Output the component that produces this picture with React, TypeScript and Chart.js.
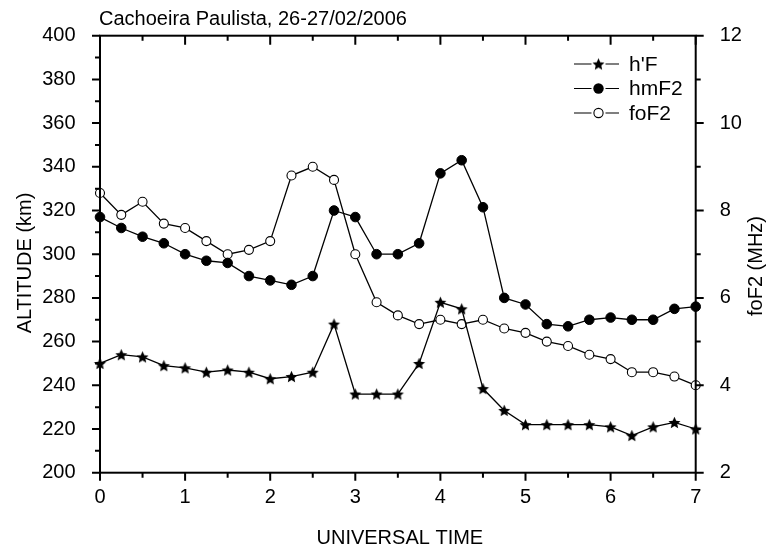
import React, { useEffect, useRef } from "react";
import { Chart, registerables } from "chart.js";

Chart.register(...registerables);

// ---- data ----
const hours = [0, 0.25, 0.5, 0.75, 1, 1.25, 1.5, 1.75, 2, 2.25, 2.5, 2.75, 3, 3.25, 3.5, 3.75, 4, 4.25, 4.5, 4.75, 5, 5.25, 5.5, 5.75, 6, 6.25, 6.5, 6.75, 7];
const hF = [250, 254, 253, 249, 248, 246, 247, 246, 243, 244, 246, 268, 236, 236, 236, 250, 278, 275, 238.5, 228.5, 222, 222, 222, 222, 221, 217, 221, 223, 220];
const hmF2 = [317, 312, 308, 305, 300, 297, 296, 290, 288, 286, 290, 320, 317, 300, 300, 305, 337, 343, 321.5, 280, 277, 268, 267, 270, 271, 270, 270, 275, 276];
const foF2 = [8.4, 7.9, 8.2, 7.7, 7.6, 7.3, 7.0, 7.1, 7.3, 8.8, 9.0, 8.7, 7.0, 5.9, 5.6, 5.4, 5.5, 5.4, 5.5, 5.3, 5.2, 5.0, 4.9, 4.7, 4.6, 4.3, 4.3, 4.2, 4.0];

const timeTicks = [0, 1, 2, 3, 4, 5, 6, 7];
const timeMinor = [0.5, 1.5, 2.5, 3.5, 4.5, 5.5, 6.5];
const altTicks = [200, 220, 240, 260, 280, 300, 320, 340, 360, 380, 400];
const altMinor = [210, 230, 250, 270, 290, 310, 330, 350, 370, 390];
const freqTicks = [2, 4, 6, 8, 10, 12];
const freqMinor = [3, 5, 7, 9, 11];

const titleText = "Cachoeira Paulista, 26-27/02/2006";
const xTitle = "UNIVERSAL TIME";
const yTitle = "ALTITUDE (km)";
const y2Title = "foF2 (MHz)";
const seriesNames = ["h'F", "hmF2", "foF2"];

const FONT = "'Liberation Sans', Arial, Helvetica, sans-serif";

function makeStar(R: number): HTMLCanvasElement {
  const size = Math.ceil(2 * R + 2);
  const c = document.createElement("canvas");
  c.width = size;
  c.height = size;
  const g = c.getContext("2d")!;
  const cx = size / 2;
  const cy = size / 2 + R * 0.095;
  g.beginPath();
  for (let i = 0; i < 10; i++) {
    const r = i % 2 === 0 ? R : R * 0.47;
    const a = -Math.PI / 2 + (i * Math.PI) / 5;
    const px = cx + r * Math.cos(a);
    const py = cy + r * Math.sin(a);
    if (i === 0) g.moveTo(px, py);
    else g.lineTo(px, py);
  }
  g.closePath();
  g.fillStyle = "#000";
  g.fill();
  return c;
}

export default function App() {
  const ref = useRef<HTMLCanvasElement>(null);

  useEffect(() => {
    const star = makeStar(6.3);

    const framePlugin = {
      id: "frame",
      afterDraw(chart: any) {
        const ctx: CanvasRenderingContext2D = chart.ctx;
        const ca = chart.chartArea;
        const left = ca.left;
        const right = ca.right;
        const top = ca.top;
        const bottom = ca.bottom;
        const W = right - left;
        const H = bottom - top;
        const sx = chart.scales.x;
        const sy = chart.scales.y;
        const sy2 = chart.scales.y2;

        ctx.save();
        ctx.strokeStyle = "#000";
        ctx.fillStyle = "#000";
        ctx.lineWidth = 2;
        ctx.strokeRect(left, top, W, H);

        const tickPath = new Path2D();
        const add = (x1: number, y1: number, x2: number, y2: number) => {
          tickPath.moveTo(x1, y1);
          tickPath.lineTo(x2, y2);
        };
        for (const v of timeTicks) {
          const p = sx.getPixelForValue(v);
          add(p, bottom, p, bottom + 8);
          add(p, top, p, top + 9);
        }
        for (const v of timeMinor) {
          const p = sx.getPixelForValue(v);
          add(p, bottom, p, bottom + 5);
          add(p, top, p, top + 5);
        }
        for (const v of altTicks) {
          const p = sy.getPixelForValue(v);
          add(left, p, left - 8, p);
        }
        for (const v of altMinor) {
          const p = sy.getPixelForValue(v);
          add(left, p, left - 5, p);
        }
        for (const v of freqTicks) {
          const p = sy2.getPixelForValue(v);
          add(right, p, right + 8, p);
        }
        for (const v of freqMinor) {
          const p = sy2.getPixelForValue(v);
          add(right, p, right + 5, p);
        }
        ctx.lineWidth = 2;
        ctx.stroke(tickPath);

        ctx.textBaseline = "alphabetic";
        ctx.font = `20px ${FONT}`;
        ctx.textAlign = "left";
        ctx.fillText(titleText, left - 1, 25);
        ctx.textAlign = "center";
        ctx.fillText(xTitle, (left + right) / 2 + 2, 544);
        ctx.save();
        ctx.translate(30.5, 263);
        ctx.rotate(-Math.PI / 2);
        ctx.fillText(yTitle, 0, 0);
        ctx.restore();
        ctx.save();
        ctx.translate(761.5, 266);
        ctx.rotate(-Math.PI / 2);
        ctx.fillText(y2Title, 0, 0);
        ctx.restore();

        // legend
        const lx0 = 574;
        const lx1 = 619;
        const mx = 598.5;
        const rows = [64, 88.5, 113];
        ctx.font = `21px ${FONT}`;
        ctx.textAlign = "left";
        ctx.textBaseline = "middle";
        rows.forEach((yy, i) => {
          ctx.lineWidth = 1.2;
          ctx.beginPath();
          ctx.moveTo(lx0, yy);
          ctx.lineTo(mx - 7, yy);
          ctx.moveTo(mx + 7, yy);
          ctx.lineTo(lx1, yy);
          ctx.stroke();
          if (i === 0) {
            ctx.drawImage(star, mx - star.width / 2, yy - star.height / 2);
          } else if (i === 1) {
            ctx.beginPath();
            ctx.arc(mx, yy, 5.2, 0, Math.PI * 2);
            ctx.fillStyle = "#000";
            ctx.fill();
          } else {
            ctx.beginPath();
            ctx.arc(mx, yy, 4.6, 0, Math.PI * 2);
            ctx.fillStyle = "#fff";
            ctx.fill();
            ctx.lineWidth = 1.1;
            ctx.stroke();
          }
          ctx.fillStyle = "#000";
          ctx.fillText(seriesNames[i], 629, yy + 1);
        });
        ctx.restore();
      },
    };

    const chart = new Chart(ref.current!, {
      type: "line",
      data: {
        datasets: [
          {
            label: seriesNames[0],
            data: hours.map((x, i) => ({ x, y: hF[i] })),
            yAxisID: "y",
            borderColor: "#000",
            borderWidth: 1.3,
            backgroundColor: "#000",
            pointStyle: star as any,
            pointRadius: 6,
            clip: false as any,
          },
          {
            label: seriesNames[1],
            data: hours.map((x, i) => ({ x, y: hmF2[i] })),
            yAxisID: "y",
            borderColor: "#000",
            borderWidth: 1.3,
            backgroundColor: "#000",
            pointBackgroundColor: "#000",
            pointBorderColor: "#000",
            pointBorderWidth: 1,
            pointStyle: "circle",
            pointRadius: 4.8,
            clip: false as any,
          },
          {
            label: seriesNames[2],
            data: hours.map((x, i) => ({ x, y: foF2[i] })),
            yAxisID: "y2",
            borderColor: "#000",
            borderWidth: 1.3,
            backgroundColor: "#fff",
            pointBackgroundColor: "#fff",
            pointBorderColor: "#000",
            pointBorderWidth: 1.1,
            pointStyle: "circle",
            pointRadius: 4.5,
            clip: false as any,
          },
        ],
      },
      options: {
        responsive: false,
        animation: false,
        devicePixelRatio: 1,
        events: [],
        layout: { padding: { top: 35.7, left: 0, right: 0, bottom: 0 } },
        plugins: {
          legend: { display: false },
          title: { display: false },
          tooltip: { enabled: false },
        },
        elements: { line: { tension: 0 } },
        scales: {
          x: {
            type: "linear",
            position: "bottom",
            min: 0,
            max: 7,
            grid: { display: false },
            border: { display: false },
            ticks: {
              color: "#000",
              font: { family: FONT, size: 20 },
              padding: 5,
              autoSkip: false,
              maxRotation: 0,
            },
            afterBuildTicks: (s: any) => {
              s.ticks = timeTicks.map((v) => ({ value: v }));
            },
            afterFit: (s: any) => {
              s.height = 81.3;
            },
          },
          y: {
            type: "linear",
            position: "left",
            min: 200,
            max: 400,
            grid: { display: false },
            border: { display: false },
            ticks: {
              color: "#000",
              font: { family: FONT, size: 20 },
              padding: 16.5,
              autoSkip: false,
            },
            afterBuildTicks: (s: any) => {
              s.ticks = altTicks.map((v) => ({ value: v }));
            },
            afterFit: (s: any) => {
              s.width = 100;
            },
          },
          y2: {
            type: "linear",
            position: "right",
            min: 2,
            max: 12,
            grid: { display: false },
            border: { display: false },
            ticks: {
              color: "#000",
              font: { family: FONT, size: 20 },
              padding: 16,
              autoSkip: false,
            },
            afterBuildTicks: (s: any) => {
              s.ticks = freqTicks.map((v) => ({ value: v }));
            },
            afterFit: (s: any) => {
              s.width = 72.3;
            },
          },
        },
      },
      plugins: [framePlugin],
    } as any);

    return () => chart.destroy();
  }, []);

  return (
    <div style={{ position: "fixed", left: 0, top: 0, width: 768, height: 554, background: "#fff" }}>
      <canvas ref={ref} width={768} height={554} style={{ display: "block" }} />
    </div>
  );
}
